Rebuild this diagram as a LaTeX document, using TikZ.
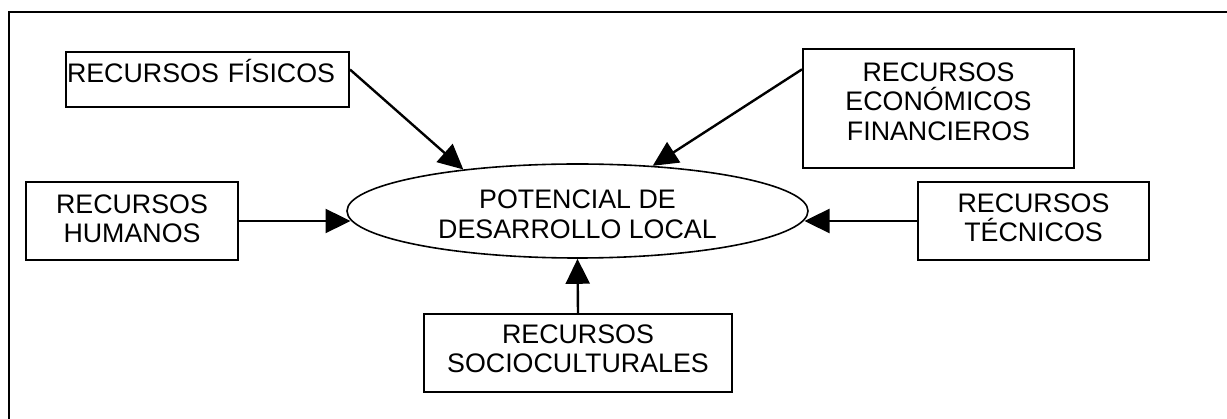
\documentclass[tikz,border=0pt]{standalone}
\usepackage{fontspec}
\setmainfont{Liberation Sans}
\usetikzlibrary{shapes.geometric,arrows.meta}
\tikzset{
  resbox/.style={draw=black, line width=2pt, rectangle, inner sep=0pt, align=center,
    font=\fontsize{26.8}{29.5}\selectfont, anchor=north west},
  potell/.style={draw=black, line width=1.6pt, ellipse, inner sep=0pt, align=center,
    minimum width=461pt, minimum height=94pt, font=\fontsize{26.8}{30.5}\selectfont},
  flecha/.style={line width=2.4pt, -{Triangle[length=25pt,width=24pt]}},
  marco/.style={line width=2.2pt}
}
\begin{document}
\begin{tikzpicture}[x=1pt,y=-1pt]
\useasboundingbox (0,0) rectangle (1227,419);
\draw[marco] (9,419) coordinate (fa) -- (9,12) coordinate (fb) -- (1227,12) coordinate (fc);

\node[resbox, minimum width=283pt, text width=281pt, inner xsep=1pt, align=left,
      text height=31pt, text depth=24pt] (fis) at (65,51) {RECURSOS FÍSICOS};
\node[resbox, minimum width=271pt, text height=91.3pt, text depth=27.7pt] (eco) at (802,48)
      {RECURSOS\\ECONÓMICOS\\FINANCIEROS};
\node[resbox, minimum width=212pt, text height=61pt, text depth=17pt] (hum) at (25,181)
      {RECURSOS\\HUMANOS};
\node[resbox, minimum width=231pt, text height=60pt, text depth=18pt] (tec) at (917,181)
      {RECURSOS\\TÉCNICOS};
\node[resbox, minimum width=308pt, text height=58.7pt, text depth=19.3pt] (soc) at (423,313)
      {RECURSOS\\SOCIOCULTURALES};

\node[potell, text height=58pt, text depth=2pt] (pot) at (577.5,211)
      {POTENCIAL DE\\DESARROLLO LOCAL};

\draw[flecha] (fis.4) -- (pot.160);
\draw[flecha] (eco.164) -- (pot.31);
\draw[flecha] (hum.east) -- ([xshift=4.3pt]hum.east -| pot.west);
\draw[flecha] (tec.west) -- ([xshift=-4.3pt]tec.west -| pot.east);
\draw[flecha] (soc.north) -- (pot.south);
\end{tikzpicture}
\end{document}
